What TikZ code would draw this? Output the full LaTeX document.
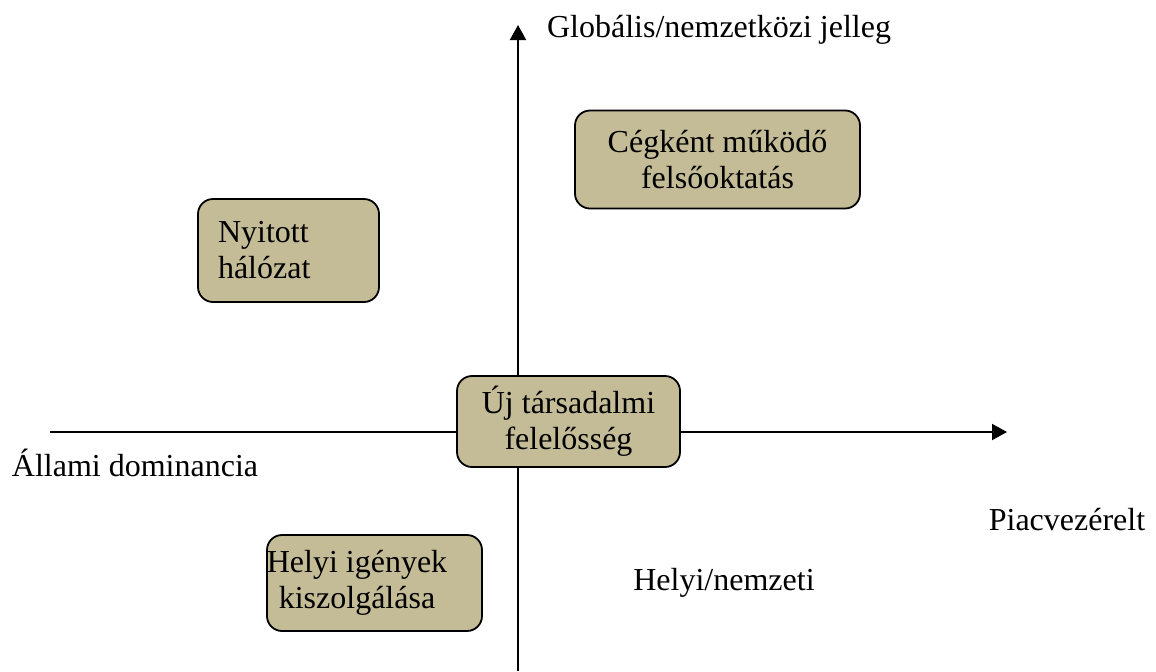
\documentclass[tikz,border=0pt]{standalone}
\usepackage{fontspec}
\setmainfont{Liberation Serif}
\usetikzlibrary{arrows.meta}
\definecolor{boxfill}{HTML}{C4BC96}
\begin{document}
\begin{tikzpicture}[x=0.5pt,y=-0.5pt,
  axis/.style={line width=1pt,-{Triangle[length=7.5pt,width=8pt]}},
  qbox/.style={draw=black,line width=0.9pt,fill=boxfill,rounded corners=7.5pt,inner sep=0pt,font=\fontsize{16}{18}\selectfont},
  lbl/.style={inner sep=0pt,font=\fontsize{16}{18}\selectfont}]
\useasboundingbox (0,0) rectangle (1156,671);
\coordinate (vbot) at (518,671);
\coordinate (vtop) at (518,25);
\coordinate (hleft) at (50,432);
\coordinate (hright) at (1007,432);
\draw[axis] (vbot) -- (vtop);
\draw[axis] (hleft) -- (hright);
\node[qbox,minimum width=142.5pt,minimum height=49pt,align=center] (ceg) at (717.5,159.5) {Cégként működő\\felsőoktatás};
\node[qbox,minimum width=90.5pt,minimum height=51.5pt,text width=70.5pt,inner xsep=10pt,align=left] (nyit) at (288.5,250.5) {Nyitott\\hálózat};
\node[qbox,minimum width=111.5pt,minimum height=45.5pt,align=center] (uj) at (568.5,421.5) {Új társadalmi\\felelősség};
\node[qbox,minimum width=107.5pt,minimum height=48pt] (helyi) at (374.5,583) {};
\node[lbl,align=center] (helyit) at (357,583) {Helyi igények\\kiszolgálása};
\node[lbl] (glob) at (719,30) {Globális/nemzetközi jelleg};
\node[lbl] (allami) at (135,463) {Állami dominancia};
\node[lbl] (piac) at (1067,520) {Piacvezérelt};
\node[lbl] (hn) at (724,583) {Helyi/nemzeti};
\end{tikzpicture}
\end{document}
